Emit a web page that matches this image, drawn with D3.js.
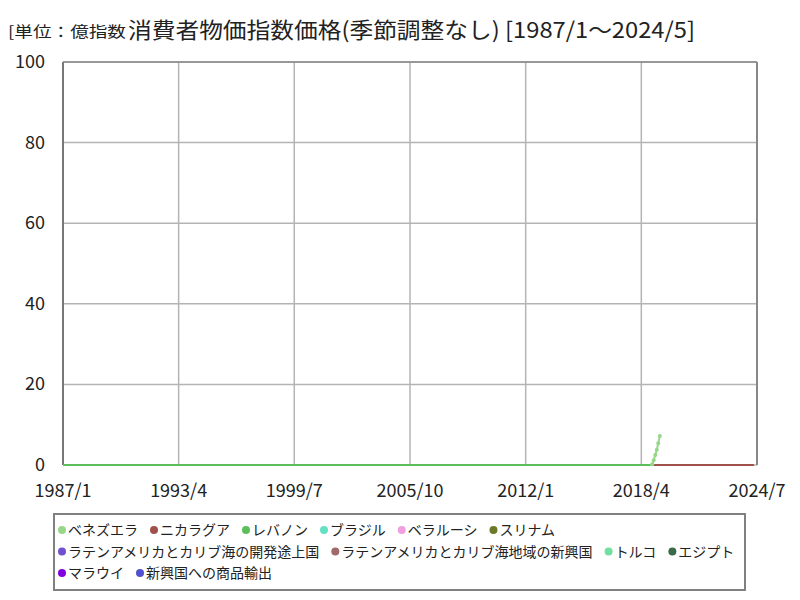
<!DOCTYPE html>
<html>
<head>
<meta charset="utf-8">
<script src="https://cdn.jsdelivr.net/npm/d3@7"></script>
<style>
  body { margin: 0; background: #fff; }
  text { font-family: "Noto Sans CJK JP", "Noto Sans", sans-serif; }
</style>
</head>
<body>
<svg id="chart" width="800" height="600"></svg>
<script>
// series names (legend order) and colours
const seriesNames = ["ベネズエラ", "ニカラグア", "レバノン", "ブラジル", "ベラルーシ", "スリナム",
    "ラテンアメリカとカリブ海の開発途上国", "ラテンアメリカとカリブ海地域の新興国", "トルコ", "エジプト",
    "マラウイ", "新興国への商品輸出"];
const seriesColors = ["#98d68a", "#a0524a", "#5cbf5c", "#66e0c4", "#f0a0e0", "#6b7a2a",
    "#7050d0", "#a06a6a", "#70e0a0", "#3a6a4a", "#8000e0", "#5050d0"];
const legendRows = [[0, 1, 2, 3, 4, 5], [6, 7, 8, 9], [10, 11]];

// x ticks
const xTickLabels = ["1987/1", "1993/4", "1999/7", "2005/10", "2012/1", "2018/4", "2024/7"];
const yTicks = [0, 20, 40, 60, 80, 100];

// values (unit: 億)
const venezuelaDates = ["2018/11", "2018/12", "2019/1", "2019/2", "2019/3", "2019/4"];
const venezuelaValues = [0.2, 1.2, 2.5, 3.8, 5.4, 7.2];
const lebanonDates = ["1987/1", "2018/11"];
const lebanonValues = [0, 0];
const nicaraguaDates = ["2018/11", "2024/5"];
const nicaraguaValues = [0, 0];

const parse = s => { const [y, m] = s.split("/").map(Number); return new Date(y, m - 1, 1); };

const svg = d3.select("#chart");
const mLeft = 63, mRight = 757, mTop = 62, mBottom = 465;

const x = d3.scaleTime().domain([parse("1987/1"), parse("2024/7")]).range([mLeft, mRight]);
const y = d3.scaleLinear().domain([0, 100]).range([mBottom, mTop]);

// title
svg.append("text").attr("x", 8).attr("y", 37).attr("font-size", 15).attr("fill", "#222")
    .attr("textLength", 118).attr("lengthAdjust", "spacingAndGlyphs")
    .text("[単位：億指数");
svg.append("text").attr("x", 128).attr("y", 38).attr("font-size", 22).attr("fill", "#222")
    .attr("textLength", 567).attr("lengthAdjust", "spacingAndGlyphs")
    .text("消費者物価指数価格(季節調整なし) [1987/1～2024/5]");

// grid
const g = svg.append("g");
g.selectAll(".vgrid").data(xTickLabels).join("line")
    .attr("x1", d => x(parse(d))).attr("x2", d => x(parse(d)))
    .attr("y1", mTop).attr("y2", mBottom)
    .attr("stroke", "#b4b4b4").attr("stroke-width", 1.5);
g.selectAll(".hgrid").data(yTicks).join("line")
    .attr("x1", mLeft).attr("x2", mRight)
    .attr("y1", d => y(d)).attr("y2", d => y(d))
    .attr("stroke", "#b4b4b4").attr("stroke-width", 1.5);
g.append("line").attr("x1", mLeft).attr("x2", mLeft).attr("y1", mTop).attr("y2", mBottom)
    .attr("stroke", "#777").attr("stroke-width", 2);
g.append("line").attr("x1", mRight).attr("x2", mRight).attr("y1", mTop).attr("y2", mBottom)
    .attr("stroke", "#888").attr("stroke-width", 2);
g.append("line").attr("x1", mLeft).attr("x2", mRight).attr("y1", mTop).attr("y2", mTop)
    .attr("stroke", "#888").attr("stroke-width", 1.5);

// axis labels
svg.selectAll(".ylab").data(yTicks).join("text")
    .attr("x", 45).attr("y", d => y(d) + 6)
    .attr("text-anchor", "end").attr("font-size", 18).attr("fill", "#222")
    .text(d => d);
svg.selectAll(".xlab").data(xTickLabels).join("text")
    .attr("x", d => x(parse(d))).attr("y", 497)
    .attr("text-anchor", "middle").attr("font-size", 18).attr("fill", "#222")
    .text(d => d);

// series
const line = d3.line().x(d => x(d[0])).y(d => y(d[1]));
const drawLine = (dates, vals, color) => {
    const pts = dates.map((d, i) => [parse(d), vals[i]]);
    svg.append("path").datum(pts).attr("d", line)
        .attr("fill", "none").attr("stroke", color).attr("stroke-width", 2);
    return pts;
};
drawLine(lebanonDates, lebanonValues, seriesColors[2]);
drawLine(nicaraguaDates, nicaraguaValues, seriesColors[1]);
const vz = drawLine(venezuelaDates, venezuelaValues, seriesColors[0]);
svg.selectAll(".vz").data(vz).join("circle")
    .attr("cx", d => x(d[0])).attr("cy", d => y(d[1])).attr("r", 2)
    .attr("fill", seriesColors[0]);

// legend
svg.append("rect").attr("x", 54).attr("y", 514).attr("width", 691).attr("height", 76)
    .attr("fill", "#fff").attr("stroke", "#808080").attr("stroke-width", 2);
legendRows.forEach((row, ri) => {
    let cx = 58;
    row.forEach(i => {
        const yy = 530 + ri * 21.5;
        svg.append("circle").attr("cx", cx + 4).attr("cy", yy).attr("r", 4).attr("fill", seriesColors[i]);
        const t = svg.append("text").attr("x", cx + 10).attr("y", yy + 5)
            .attr("font-size", 14).attr("fill", "#222").text(seriesNames[i]);
        cx += 10 + t.node().getComputedTextLength() + 12;
    });
});
</script>
</body>
</html>
